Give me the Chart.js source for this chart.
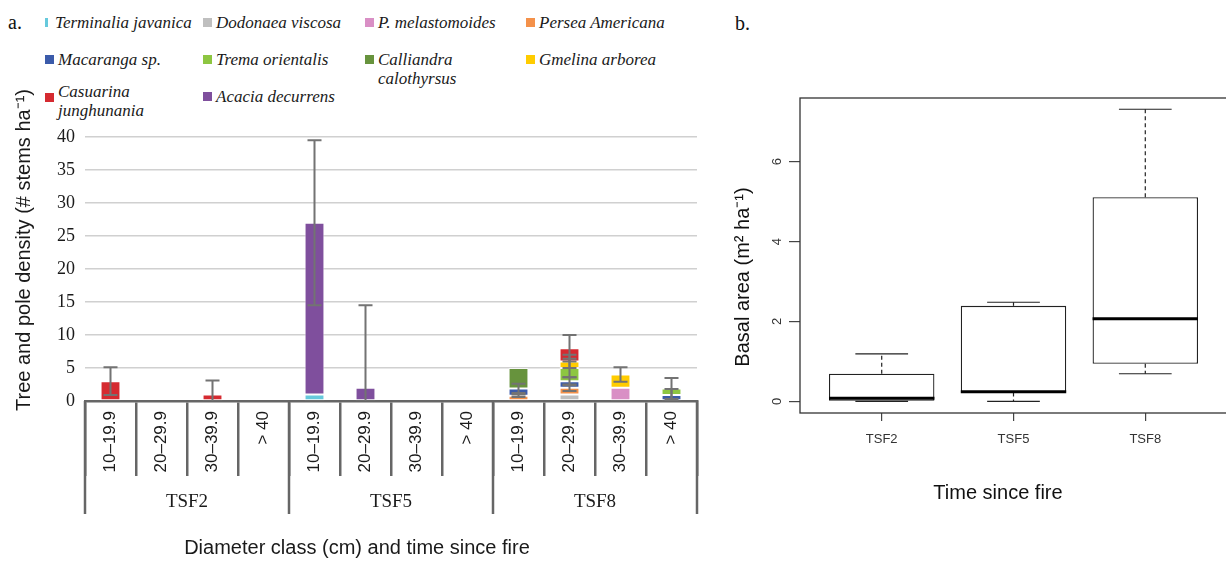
<!DOCTYPE html>
<html>
<head>
<meta charset="utf-8">
<script src="https://cdn.jsdelivr.net/npm/chart.js@4.4.1/dist/chart.umd.min.js"></script>
<style>
  html, body { margin: 0; padding: 0; background: #fff; overflow: hidden; }
  body { width: 1226px; height: 561px; position: relative; }
  #chartA { position: absolute; left: 0; top: 0; }
  #chartB { position: absolute; left: 720px; top: 0; }
  .panel { position: absolute; font-family: "Liberation Serif", "Times New Roman", serif; font-size: 20px; color: #111; line-height: 20px; }
  #legend { position: absolute; left: 0; top: 0; width: 720px; height: 120px; font-family: "Liberation Serif", "Times New Roman", serif;
            font-style: italic; font-size: 17px; color: #1a1a1a; }
  .item { position: absolute; display: flex; align-items: flex-start; line-height: 19px; white-space: nowrap; }
  .swatch { width: 9px; height: 9px; margin-top: 5px; margin-right: 4px; flex: none; }
</style>
</head>
<body>
<div class="panel" style="left:8px; top:12px;">a.</div>
<div class="panel" style="left:735px; top:13px;">b.</div>
<div id="legend"></div>
<canvas id="chartA" width="720" height="561"></canvas>
<canvas id="chartB" width="510" height="561"></canvas>
<script>
// panel a: stems per ha by diameter class and time since fire
const diameterClasses = ['10–19.9', '20–29.9', '30–39.9', '> 40'];
const sites = ['TSF2', 'TSF5', 'TSF8'];
const categories = sites.flatMap(() => diameterClasses);

const species = ['Terminalia javanica', 'Dodonaea viscosa', 'P. melastomoides', 'Persea Americana',
  'Macaranga sp.', 'Trema orientalis', 'Calliandra calothyrsus', 'Gmelina arborea',
  'Casuarina junghunania', 'Acacia decurrens'];

//                     TSF2        TSF5          TSF8
const terminalia    = [0, 0, 0, 0, 1, 0, 0, 0,   0, 0, 0, 0];
const dodonaea      = [0, 0, 0, 0, 0, 0, 0, 0,   0, 1, 0, 0];
const melastomoides = [0, 0, 0, 0, 0, 0, 0, 0,   0, 0, 2, 0];
const persea        = [0, 0, 0, 0, 0, 0, 0, 0,   0.8, 1, 0, 0];
const macaranga     = [0, 0, 0, 0, 0, 0, 0, 0,   1.1, 1, 0, 0.9];
const trema         = [0, 0, 0, 0, 0, 0, 0, 0,   0, 2, 0, 1];
const calliandra    = [0, 0, 0, 0, 0, 0, 0, 0,   3.1, 0, 0, 0];
const gmelina       = [0, 0, 0, 0, 0, 0, 0, 0,   0, 1, 2, 0];
const casuarina     = [3, 0, 1, 0, 0, 0, 0, 0,   0, 2, 0, 0];
const acacia        = [0, 0, 0, 0, 26, 2, 0, 0,  0, 0, 0, 0];

// error bars (+/-) at the top of each stacked segment
const terminaliaErr    = [0, 0, 0, 0, 0, 0, 0, 0,      0, 0, 0, 0];
const dodonaeaErr      = [0, 0, 0, 0, 0, 0, 0, 0,      0, 0, 0, 0];
const melastomoidesErr = [0, 0, 0, 0, 0, 0, 0, 0,      0, 0, 0, 0];
const perseaErr        = [0, 0, 0, 0, 0, 0, 0, 0,      0.2, 0.5, 0, 0];
const macarangaErr     = [0, 0, 0, 0, 0, 0, 0, 0,      0.7, 0.6, 0, 0.9];
const tremaErr         = [0, 0, 0, 0, 0, 0, 0, 0,      0, 1.4, 0, 1.6];
const calliandraErr    = [0, 0, 0, 0, 0, 0, 0, 0,      0, 0, 0, 0];
const gmelinaErr       = [0, 0, 0, 0, 0, 0, 0, 0,      0, 1, 1.1, 0];
const casuarinaErr     = [2.1, 0, 2.1, 0, 0, 0, 0, 0,  0, 2, 0, 0];
const acaciaErr        = [0, 0, 0, 0, 12.5, 12.5, 0, 0, 0, 0, 0, 0];

const yTicksA = { min: 0, max: 40, step: 5 };

// panel b: basal area boxplots
const boxMin    = [0, 0, 0.69];
const boxQ1     = [0, 0.22, 0.94];
const boxMedian = [0.08, 0.24, 2.07];
const boxQ3     = [0.69, 2.39, 5.11];
const boxMax    = [1.19, 2.48, 7.31];
const yTicksB = [0, 2, 4, 6];

const xTitleA = 'Diameter class (cm) and time since fire';
const yTitleA = 'Tree and pole density (# stems ha\u207B\u00B9)';
const xTitleB = 'Time since fire';
const yTitleB = 'Basal area (m\u00B2 ha\u207B\u00B9)';

const palette = ['#66c9dc', '#bfbfbf', '#d98fc5', '#f4914a', '#3b5baa',
  '#8dc641', '#67933d', '#ffcc00', '#d52a30', '#7f4f9d'];

const seriesValues = [terminalia, dodonaea, melastomoides, persea, macaranga,
  trema, calliandra, gmelina, casuarina, acacia];
const seriesErrors = [terminaliaErr, dodonaeaErr, melastomoidesErr, perseaErr, macarangaErr,
  tremaErr, calliandraErr, gmelinaErr, casuarinaErr, acaciaErr];

Chart.defaults.animation = false;
Chart.defaults.plugins.tooltip.enabled = false;
Chart.defaults.plugins.legend.display = false;
Chart.defaults.font.family = '"Liberation Sans", Arial, sans-serif';

// html legend in the reference's 4-column layout
const legendSlots = [[0, 0], [1, 0], [2, 0], [3, 0], [0, 1], [1, 1], [2, 1], [3, 1], [0, 2], [1, 2]];
const slotLeft = [45, 203, 365, 526];
const slotTop = [12.5, 49.5, 81.5];
const legendEl = document.getElementById('legend');
species.forEach((name, i) => {
  const [c, r] = legendSlots[i];
  const item = document.createElement('div');
  item.className = 'item';
  item.style.left = slotLeft[c] + 'px';
  item.style.top = (slotTop[r] + (i === 9 ? 5 : 0)) + 'px';
  const sw = document.createElement('span');
  sw.className = 'swatch';
  sw.style.background = palette[i];
  if (i === 0) { sw.style.width = '3px'; sw.style.marginRight = '7px'; }
  if (i === 8) sw.style.marginTop = '11px';
  const tx = document.createElement('span');
  tx.textContent = name;
  if (i === 6 || i === 8) { tx.style.whiteSpace = 'normal'; tx.style.width = '100px'; }
  item.appendChild(sw);
  item.appendChild(tx);
  legendEl.appendChild(item);
});

const errorBarPlugin = {
  id: 'errorBars',
  afterDatasetsDraw(chart) {
    const { ctx, chartArea: a, scales: { y } } = chart;
    ctx.save();
    ctx.beginPath();
    ctx.rect(a.left, a.top - 2, a.width, a.height + 2);
    ctx.clip();
    ctx.strokeStyle = '#737373';
    ctx.lineWidth = 2;
    categories.forEach((_, i) => {
      let top = 0;
      seriesValues.forEach((vals, d) => {
        top += vals[i];
        const err = seriesErrors[d][i];
        if (!err) return;
        const el = chart.getDatasetMeta(d).data[i];
        const hi = y.getPixelForValue(top + err);
        const lo = y.getPixelForValue(top - err);
        ctx.beginPath();
        ctx.moveTo(el.x, hi); ctx.lineTo(el.x, lo);
        ctx.moveTo(el.x - 7, hi); ctx.lineTo(el.x + 7, hi);
        ctx.moveTo(el.x - 7, lo); ctx.lineTo(el.x + 7, lo);
        ctx.stroke();
      });
    });
    ctx.restore();
  }
};

const groupAxisPlugin = {
  id: 'groupAxis',
  afterDraw(chart) {
    const { ctx, chartArea: a, scales: { x } } = chart;
    const cell = x.width / categories.length;
    const n = diameterClasses.length;
    ctx.save();
    ctx.strokeStyle = '#666';
    ctx.lineWidth = 2.5;
    for (let g = 0; g <= sites.length; g++) {
      const px = x.left + g * n * cell;
      ctx.beginPath();
      ctx.moveTo(px, a.bottom);
      ctx.lineTo(px, a.bottom + 113);
      ctx.stroke();
    }
    ctx.fillStyle = '#1a1a1a';
    ctx.textAlign = 'center';
    ctx.textBaseline = 'middle';
    ctx.font = '19px "Liberation Serif", "Times New Roman", serif';
    sites.forEach((s, g) => ctx.fillText(s, x.left + (g + 0.5) * n * cell, a.bottom + 101));
    ctx.font = '20px "Liberation Sans", Arial, sans-serif';
    ctx.fillText(xTitleA, 357, 548);
    ctx.translate(24, 250);
    ctx.rotate(-Math.PI / 2);
    ctx.fillText(yTitleA, 0, 0);
    ctx.restore();
  }
};

new Chart(document.getElementById('chartA'), {
  type: 'bar',
  data: {
    labels: categories,
    datasets: species.map((name, i) => ({
      label: name,
      data: seriesValues[i],
      backgroundColor: palette[i],
      borderColor: 'rgba(255,255,255,0.65)',
      borderWidth: ctx => (ctx.raw ? 1 : 0),
      borderSkipped: false,
      barPercentage: 0.39,
      categoryPercentage: 1
    }))
  },
  options: {
    responsive: false,
    layout: { padding: { top: 137, right: 23, left: 0, bottom: 0 } },
    scales: {
      x: {
        stacked: true,
        afterFit(scale) { scale.height = 160; },
        grid: { display: true, offset: true, drawOnChartArea: false, drawTicks: true,
                tickLength: 75, color: '#666', lineWidth: 2.5 },
        border: { display: true, color: '#666', width: 2.5 },
        ticks: { minRotation: 90, maxRotation: 90, autoSkip: false, padding: -65,
                 color: '#1a1a1a', font: { size: 17 } }
      },
      y: {
        stacked: true,
        min: yTicksA.min,
        max: yTicksA.max,
        afterFit(scale) { scale.width = 85; },
        grid: { color: '#d0d0d0', lineWidth: 1.5, drawTicks: false },
        border: { display: false },
        ticks: { stepSize: yTicksA.step, padding: 10, color: '#1a1a1a',
                 font: { family: '"Liberation Serif", "Times New Roman", serif', size: 18 } }
      }
    }
  },
  plugins: [errorBarPlugin, groupAxisPlugin]
});

const boxPartsPlugin = {
  id: 'boxParts',
  afterDatasetsDraw(chart) {
    const { ctx, chartArea: a, scales: { x, y } } = chart;
    const staple = (x.getPixelForValue(1) - x.getPixelForValue(0)) * 0.2;
    const meta = chart.getDatasetMeta(0);
    ctx.save();
    ctx.strokeStyle = '#222';
    sites.forEach((s, i) => {
      const cx = x.getPixelForValue(i + 1);
      const seg = (v0, v1, x0, x1) => {
        ctx.beginPath();
        ctx.moveTo(x0, y.getPixelForValue(v0));
        ctx.lineTo(x1, y.getPixelForValue(v1));
        ctx.stroke();
      };
      ctx.lineWidth = 1.2;
      ctx.setLineDash([4, 3]);
      if (boxMax[i] > boxQ3[i]) seg(boxQ3[i], boxMax[i], cx, cx);
      if (boxMin[i] < boxQ1[i]) seg(boxQ1[i], boxMin[i], cx, cx);
      ctx.setLineDash([]);
      seg(boxMax[i], boxMax[i], cx - staple, cx + staple);
      seg(boxMin[i], boxMin[i], cx - staple, cx + staple);
      const hw = meta.data[i].width / 2;
      ctx.lineWidth = 3;
      ctx.strokeStyle = '#000';
      seg(boxMedian[i], boxMedian[i], cx - hw, cx + hw);
      ctx.strokeStyle = '#222';
    });
    ctx.lineWidth = 1.3;
    ctx.strokeStyle = '#333';
    ctx.strokeRect(a.left, a.top, a.width, a.height);
    ctx.fillStyle = '#111';
    ctx.textAlign = 'center';
    ctx.textBaseline = 'middle';
    ctx.font = '20px "Liberation Sans", Arial, sans-serif';
    ctx.fillText(xTitleB, 278, 493);
    ctx.translate(23, 277);
    ctx.rotate(-Math.PI / 2);
    ctx.fillText(yTitleB, 0, 0);
    ctx.restore();
  }
};

new Chart(document.getElementById('chartB'), {
  type: 'bar',
  data: {
    datasets: [{
      data: sites.map((s, i) => ({ x: i + 1, y: [boxQ1[i], boxQ3[i]] })),
      backgroundColor: '#fff',
      borderColor: '#222',
      borderWidth: 1.3,
      borderSkipped: false,
      barPercentage: 0.8,
      categoryPercentage: 1
    }]
  },
  options: {
    responsive: false,
    layout: { padding: { top: 98, right: 3, left: 0, bottom: 0 } },
    scales: {
      x: {
        type: 'linear',
        offset: false,
        min: 0.38,
        max: 3.62,
        afterFit(scale) { scale.height = 148; },
        grid: { display: true, offset: false, drawOnChartArea: false, drawTicks: true, tickLength: 8,
                color: '#444', lineWidth: 1.2 },
        border: { display: false },
        ticks: { stepSize: 1, includeBounds: false, padding: 11, color: '#333',
                 font: { size: 13 }, callback: v => sites[v - 1] || '' }
      },
      y: {
        min: -0.292,
        max: 7.592,
        afterFit(scale) { scale.width = 80; },
        afterBuildTicks(scale) { scale.ticks = yTicksB.map(v => ({ value: v })); },
        grid: { display: true, drawOnChartArea: false, drawTicks: true, tickLength: 11,
                color: '#444', lineWidth: 1.2 },
        border: { display: false },
        ticks: { minRotation: 90, maxRotation: 90, crossAlign: 'center', padding: 8,
                 color: '#333', font: { size: 13 } }
      }
    }
  },
  plugins: [boxPartsPlugin]
});
</script>
</body>
</html>
